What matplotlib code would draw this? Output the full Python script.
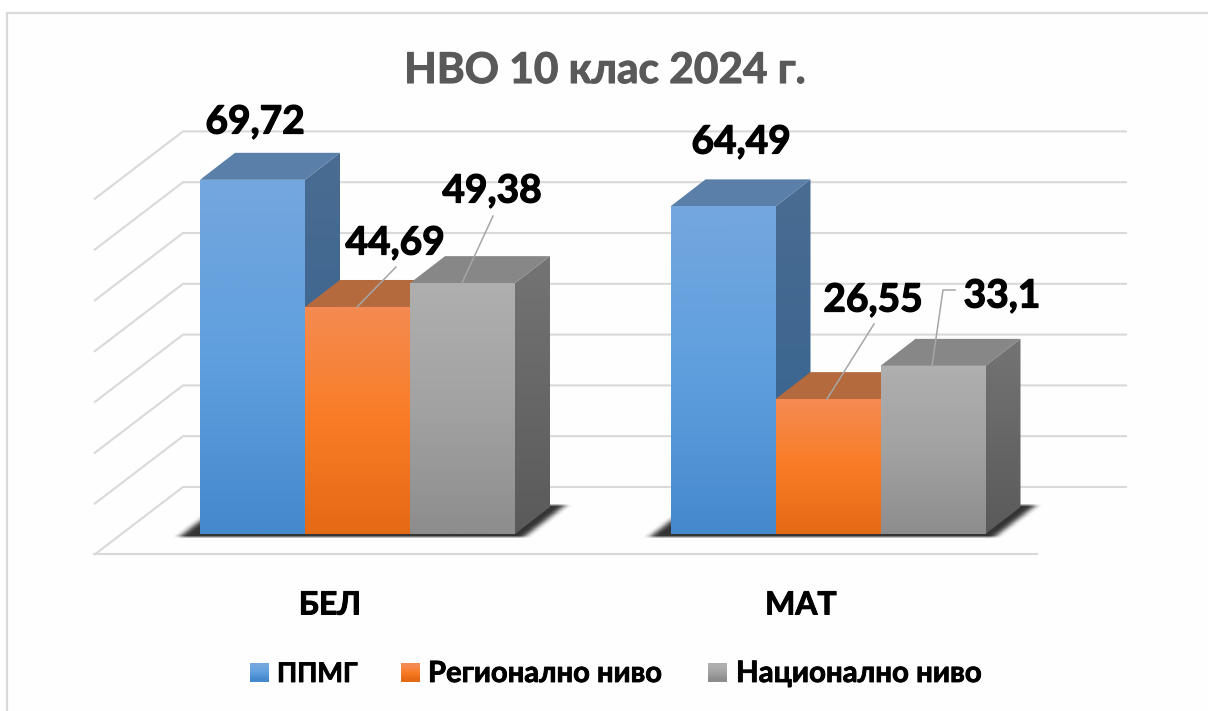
import numpy as np
import matplotlib
matplotlib.use("Agg")
import matplotlib.pyplot as plt
import matplotlib.patheffects as pe
from matplotlib.colors import to_rgb
from matplotlib.patches import Polygon, Rectangle

plt.rcParams["font.family"] = ["Lato", "Open Sans", "DejaVu Sans"]

TITLE = "НВО 10 клас 2024 г."
CATEGORIES = ["БЕЛ", "МАТ"]
SERIES = ["ППМГ", "Регионално ниво", "Национално ниво"]
PPMG = [69.72, 64.49]
REGIONAL = [44.69, 26.55]
NATIONAL = [49.38, 33.1]
GRID_TICKS = [0, 10, 20, 30, 40, 50, 60, 70]

W, H = 1208, 711
PX_PER_UNIT = 5.08
PX_PER_CAT = 470.5
BAR_W = 105 / PX_PER_CAT
BASE_Y = 534
CAT0_X = 357.5

# colours: front top, front mid, front bottom, top face, side top, side bottom
STYLES = [
    ("#74a7de", "#5f9fde", "#4589cd", "#5a7fa8", "#4a6c92", "#33628f"),
    ("#f48b52", "#f97c25", "#e56a16", "#b56a3e", "#a85a2c", "#8f4c20"),
    ("#afafaf", "#a2a2a2", "#8d8d8d", "#878787", "#747474", "#5a5a5a"),
]
GRID_COL = "#d9d9d9"
LEADER_COL = "#a6a6a6"


def dx(px):
    return px / PX_PER_CAT


def dy(px):
    return px / PX_PER_UNIT


def fig_xy(x, y):
    return x / W, 1 - y / H


def bold(width, color="black"):
    # Lato bold is a bit lighter than the original face
    return [pe.withStroke(linewidth=width, foreground=color)]


fig = plt.figure(figsize=(W / 100, H / 100), dpi=100)
ax = fig.add_axes([0, 0, 1, 1])
xlim = (-CAT0_X / PX_PER_CAT, (W - CAT0_X) / PX_PER_CAT)
ylim = (-(H - BASE_Y) / PX_PER_UNIT, BASE_Y / PX_PER_UNIT)
ax.axis("off")


def gradient_face(poly_pts, colors, z):
    pts = np.array(poly_pts)
    poly = Polygon(pts, closed=True, fc="none", ec="none", transform=ax.transData)
    ax.add_patch(poly)
    rgb = np.array([to_rgb(c) for c in colors])
    t = np.linspace(0, 1, 200)
    pos = np.linspace(0, 1, len(colors))
    img = np.stack([np.interp(t, pos, rgb[:, k]) for k in range(3)], axis=1)[:, None, :]
    im = ax.imshow(img, extent=(pts[:, 0].min(), pts[:, 0].max(), pts[:, 1].min(), pts[:, 1].max()),
                   aspect="auto", origin="upper", zorder=z)
    im.set_clip_path(poly)


def shadow(x0, x1, z):
    # soft shadow on the floor behind and beside a group of bars
    yy, xx = np.mgrid[0:H, 0:W]
    base = BASE_Y + 3
    left = x0 - 22 + (base - yy) * 35 / 27
    right = x1 + 8 + (base - yy) * 35 / 27
    mask = ((yy < base) & (yy > BASE_Y - 30) & (xx > left) & (xx < right)).astype(float)
    kernel = np.ones(9) / 9
    for _ in range(2):
        mask = np.apply_along_axis(lambda r: np.convolve(r, kernel, mode="same"), 1, mask)
    kernel = np.ones(3) / 3
    mask = np.apply_along_axis(lambda c: np.convolve(c, kernel, mode="same"), 0, mask)
    rgba = np.zeros((H, W, 4))
    rgba[..., 3] = mask * 0.8
    ax.imshow(rgba, extent=(*xlim, *ylim), aspect="auto", origin="upper", zorder=z)


# outer frame of the chart
fig.add_artist(Rectangle(fig_xy(7, 1000), (1300) / W, 987 / H, fc="#fefefe", ec=GRID_COL, lw=1.6,
                         transform=fig.transFigure, zorder=-5))

# back wall, side wall and floor
wall_y = dy(BASE_Y - 487)
wall_x0, wall_x1 = dx(183 - CAT0_X), dx(1127 - CAT0_X)
for tick in GRID_TICKS:
    y = tick + wall_y
    ax.plot([wall_x0 - dx(89), wall_x0, wall_x1], [y - dy(68), y, y], color=GRID_COL, lw=1.5, zorder=1,
            solid_capstyle="butt", solid_joinstyle="miter")
ax.plot([wall_x0 - dx(89), wall_x1 - dx(90)], [-dy(20), -dy(20)], color=GRID_COL, lw=1.5, zorder=1)

values = [PPMG, REGIONAL, NATIONAL]
d_x, d_y = dx(35), dy(27)
for c in range(len(CATEGORIES)):
    x0 = CAT0_X + c * PX_PER_CAT - 1.5 * 105
    shadow(x0, x0 + 3 * 105, 2)

z = 3
for c in range(len(CATEGORIES)):
    for s, vals in enumerate(values):
        v = vals[c]
        st = STYLES[s]
        left = c + (s - 1.5) * BAR_W
        right = left + BAR_W
        # side face
        gradient_face([(right, 0), (right + d_x, d_y), (right + d_x, v + d_y), (right, v)], st[4:6], z)
        # top face
        ax.add_patch(Polygon([(left, v), (right, v), (right + d_x, v + d_y), (left + d_x, v + d_y)],
                             fc=st[3], ec="none", zorder=z + 1))
        # front face
        gradient_face([(left, 0), (right, 0), (right, v), (left, v)], st[:3], z + 2)
        z += 3

ax.set_xlim(xlim)
ax.set_ylim(ylim)

# leader lines, in pixels
LEADERS = [
    [(396, 267), (357, 307)],
    [(493, 216), (462, 283)],
    [(874, 324), (827, 399)],
    [(955, 290), (943, 290), (932, 366)],
]
for line in LEADERS:
    pts = [fig_xy(*p) for p in line]
    fig.add_artist(plt.Line2D([p[0] for p in pts], [p[1] for p in pts], color=LEADER_COL, lw=1.1, zorder=50))

LABEL_POS = [[(255, 122), (741, 142)], [(395, 243), (873, 300)], [(492, 191), (1002, 296)]]
for s, vals in enumerate(values):
    for c, v in enumerate(vals):
        x, y = fig_xy(*LABEL_POS[s][c])
        fig.text(x, y, str(v).replace(".", ","), ha="center", va="center", fontsize=28, fontweight="bold",
                 color="black", zorder=60, path_effects=bold(0.9))

x, y = fig_xy(605, 71)
fig.text(x, y, TITLE, ha="center", va="center", fontsize=30.5, fontweight="bold", color="#595959",
         path_effects=bold(0.8, "#595959"))

for cat, px in zip(CATEGORIES, [330, 801]):
    x, y = fig_xy(px, 605)
    fig.text(x, y, cat, ha="center", va="center", fontsize=23, fontweight="bold", color="black",
             path_effects=bold(0.7))

# legend
LEG_X = [(250, 277), (401, 428), (708, 736)]
LEG_SIZE = [19.5, 21, 21.2]
for name, (sx, tx), st, size in zip(SERIES, LEG_X, STYLES, LEG_SIZE):
    grad = np.array([to_rgb(c) for c in st[:3]])[:, None, :]
    lax = fig.add_axes([sx / W, 1 - 682 / H, 19 / W, 19 / H])
    lax.imshow(grad, aspect="auto", interpolation="bilinear")
    lax.axis("off")
    x, y = fig_xy(tx, 674)
    fig.text(x, y, name, ha="left", va="center", fontsize=size, fontweight="bold", color="black",
             path_effects=bold(0.6))

fig.savefig("out.png", dpi=100)
